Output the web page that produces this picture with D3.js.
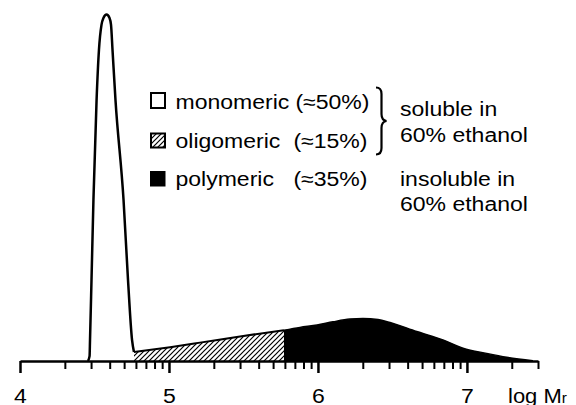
<!DOCTYPE html>
<html><head><meta charset="utf-8">
<script src="https://cdn.jsdelivr.net/npm/d3@7"></script>
<style>
html,body{margin:0;padding:0;background:#fff;}
svg{display:block;}
text{font-family:"Liberation Sans", Arial, sans-serif; fill:#000;}
</style></head><body>
<svg id="chart" width="576" height="405"></svg>
<script>
// Molecular mass distribution over log Mr (relative abundance, peak = 100), split by fraction
const monoLogM  = [4.456, 4.467, 4.470, 4.480, 4.493, 4.514, 4.530, 4.547, 4.560, 4.581, 4.601, 4.611, 4.621, 4.641, 4.695, 4.725, 4.752, 4.765];
const monoAbund = [0, 1.4, 6.1, 23.4, 46.5, 75.3, 89.8, 97.0, 99.0, 100, 99.0, 97.0, 89.8, 75.3, 46.5, 23.4, 6.1, 2.6];

const oligoLogM  = [4.765, 5.007, 5.208, 5.477, 5.772];
const oligoAbund = [2.6, 4.0, 5.3, 7.1, 8.9];

const polyLogM  = [5.772, 5.879, 5.994, 6.101, 6.215, 6.302, 6.403, 6.484, 6.663, 6.839, 6.974, 7.133, 7.267, 7.443];
const polyAbund = [8.9, 9.7, 10.4, 11.3, 12.1, 12.3, 12.0, 11.1, 8.5, 6.1, 3.7, 2.2, 1.1, 0.1];

const majorTicks = [4, 5, 6, 7];
const tickLabels = ["4", "5", "6", "7"];
// minor ticks at 2..9 x 10^4 .. 10^6 and 2, 3 x 10^7
const minorMr = [2e4,3e4,4e4,5e4,6e4,7e4,8e4,9e4, 2e5,3e5,4e5,5e5,6e5,7e5,8e5,9e5, 2e6,3e6,4e6,5e6,6e6,7e6,8e6,9e6, 2e7,3e7];

const legendNames  = ["monomeric", "oligomeric", "polymeric"];
const legendShares = ["(≈50%)", "(≈15%)", "(≈35%)"];
const solubleNote   = ["soluble in", "60% ethanol"];
const insolubleNote = ["insoluble in", "60% ethanol"];

const svg = d3.select("#chart");
const x = d3.scaleLinear().domain([4, Math.log10(3e7)]).range([20, 538]);
const y = d3.scaleLinear().domain([0, 100]).range([361, 14.5]);

// lettering in this figure is set wider than the regular face
const STRETCH = 1.15;
function stretch(sel) {
  sel.each(function () {
    const w = this.getComputedTextLength();
    this.setAttribute("textLength", w * STRETCH);
    this.setAttribute("lengthAdjust", "spacingAndGlyphs");
  });
}

const defs = svg.append("defs");
defs.append("pattern").attr("id", "hatch")
  .attr("patternUnits", "userSpaceOnUse").attr("width", 5).attr("height", 5)
  .append("path").attr("d", "M-1,1 l2,-2 M0,5 l5,-5 M4,6 l2,-2")
  .attr("stroke", "#000").attr("stroke-width", 1.2);

const zip = (a, b) => a.map((v, i) => [v, b[i]]);
const area = d3.area().x(d => x(d[0])).y0(y(0)).y1(d => y(d[1])).curve(d3.curveMonotoneX);
const line = d3.line().x(d => x(d[0])).y(d => y(d[1])).curve(d3.curveMonotoneX);

const mono = zip(monoLogM, monoAbund);
const oligo = zip(oligoLogM, oligoAbund);
const poly = zip(polyLogM, polyAbund);

svg.append("path").attr("d", area(oligo)).attr("fill", "url(#hatch)");
svg.append("path").attr("d", area(poly)).attr("fill", "#000");
svg.append("path").attr("d", area(mono)).attr("fill", "#fff");

svg.append("path").attr("d", line(oligo)).attr("fill", "none").attr("stroke", "#000").attr("stroke-width", 2);
svg.append("path").attr("d", line(poly)).attr("fill", "none").attr("stroke", "#000").attr("stroke-width", 1.5);
svg.append("path").attr("d", line(mono)).attr("fill", "none").attr("stroke", "#000")
  .attr("stroke-width", 2.5).attr("stroke-linejoin", "round");

// x axis: log Mr with logarithmic minor ticks
const axisG = svg.append("g").attr("transform", `translate(0,${y(0)})`);
const minorG = axisG.append("g")
  .call(d3.axisBottom(x).tickValues(minorMr.map(Math.log10)).tickSize(8).tickSizeOuter(0).tickFormat(""));
minorG.selectAll(".tick line").attr("stroke", "#000").attr("stroke-width", 2);
minorG.select(".domain").attr("stroke", "#000").attr("stroke-width", 2.5);

const majorG = axisG.append("g")
  .call(d3.axisBottom(x).tickValues(majorTicks).tickSize(12).tickSizeOuter(0)
    .tickFormat((d, i) => tickLabels[i]));
majorG.select(".domain").remove();
majorG.attr("font-family", null).attr("font-size", null);
majorG.selectAll(".tick line").attr("stroke", "#000").attr("stroke-width", 2.5);
majorG.selectAll(".tick text").attr("y", 41.5).attr("dy", null)
  .attr("font-size", 20).attr("fill", "#000").call(stretch);

const axisLabel = svg.append("text").attr("transform", "translate(508,402.5) scale(1.1,1)")
  .attr("font-size", 20);
axisLabel.append("tspan").text("log M");
axisLabel.append("tspan").attr("font-size", 14).text("r");

// legend
const rowBase = [108.5, 147.5, 186];
const shareX = [295.5, 293.5, 293.5];
svg.append("rect").attr("x", 151).attr("y", 93).attr("width", 14).attr("height", 15)
  .attr("fill", "#fff").attr("stroke", "#000").attr("stroke-width", 2);
svg.append("rect").attr("x", 151).attr("y", 133.5).attr("width", 14).attr("height", 14)
  .attr("fill", "url(#hatch)").attr("stroke", "#000").attr("stroke-width", 2);
svg.append("rect").attr("x", 150).attr("y", 171).attr("width", 15.5).attr("height", 15.5)
  .attr("fill", "#000");

legendNames.forEach((name, i) => {
  svg.append("text").attr("x", 175.5).attr("y", rowBase[i]).attr("font-size", 20).text(name).call(stretch);
  svg.append("text").attr("x", shareX[i]).attr("y", rowBase[i]).attr("font-size", 20).text(legendShares[i]).call(stretch);
});

// brace grouping the two soluble fractions
svg.append("path")
  .attr("d", "M376,87.5 C380,87.5 381.5,89.5 381.5,94 L381.5,114 C381.5,118 383,120.5 386.5,121 C383,121.5 381.5,124 381.5,128 L381.5,148 C381.5,152.5 380,154.5 376,154.5")
  .attr("fill", "none").attr("stroke", "#000").attr("stroke-width", 2.2);

const noteBase = [116, 141.7, 186, 210.7];
solubleNote.concat(insolubleNote).forEach((t, i) => {
  svg.append("text").attr("x", 400).attr("y", noteBase[i]).attr("font-size", 20).text(t).call(stretch);
});
</script>
</body></html>
